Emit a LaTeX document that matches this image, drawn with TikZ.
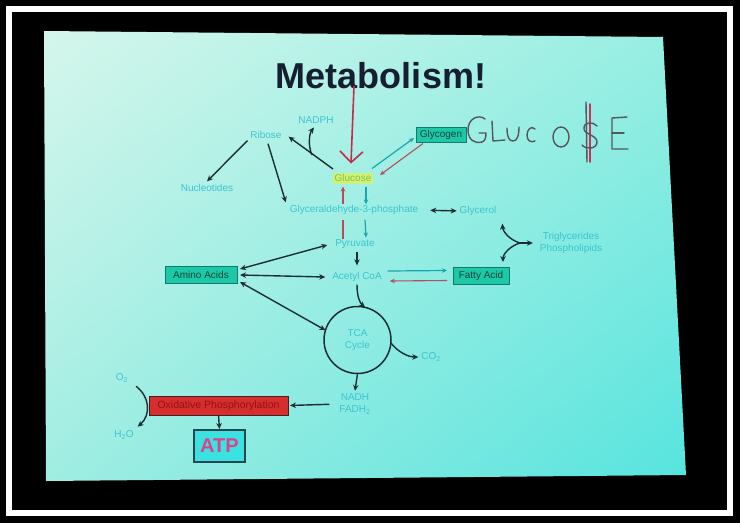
\documentclass[tikz,border=0pt]{standalone}
\usepackage{fontspec}
\setmainfont{Liberation Sans}
\usetikzlibrary{arrows.meta,shadings}
\definecolor{slideUL}{RGB}{214,246,236}
\definecolor{slideUR}{RGB}{150,238,226}
\definecolor{slideLL}{RGB}{160,237,226}
\definecolor{slideLR}{RGB}{85,228,222}
\definecolor{labc}{RGB}{60,196,208}
\definecolor{titlec}{RGB}{22,30,50}
\definecolor{dkc}{RGB}{30,45,52}
\definecolor{tealc}{RGB}{25,165,170}
\definecolor{redc}{RGB}{185,75,90}
\definecolor{bigred}{RGB}{200,40,75}
\definecolor{boxfill}{RGB}{28,200,165}
\definecolor{boxedge}{RGB}{20,120,110}
\definecolor{boxtext}{RGB}{20,70,60}
\definecolor{glufill}{RGB}{205,242,120}
\definecolor{glutext}{RGB}{140,190,70}
\definecolor{oxfill}{RGB}{215,45,45}
\definecolor{oxedge}{RGB}{70,30,30}
\definecolor{oxtext}{RGB}{140,20,25}
\definecolor{atpfill}{RGB}{60,225,225}
\definecolor{atpedge}{RGB}{40,70,80}
\definecolor{atptext}{RGB}{215,70,140}
\definecolor{handc}{RGB}{85,85,92}
\definecolor{handred}{RGB}{205,50,85}
\begin{document}
\begin{tikzpicture}[x=1pt,y=-1pt,
  lab/.style={text=labc, font=\fontsize{10}{12}\selectfont, inner sep=0pt, outer sep=0pt, align=center},
  tbox/.style={draw=boxedge, fill=boxfill, text=boxtext, font=\fontsize{10}{12}\selectfont, inner sep=1pt, outer sep=0pt, line width=0.6pt},
  dk/.style={draw=dkc, line width=1.4pt, -{Stealth[length=6pt,width=5.5pt]}},
  dkboth/.style={draw=dkc, line width=1.4pt, {Stealth[length=6pt,width=5.5pt]}-{Stealth[length=6pt,width=5.5pt]}},
  tl/.style={draw=tealc, line width=1.2pt, -{Stealth[length=5pt,width=4.5pt]}},
  rd/.style={draw=redc, line width=1.1pt, -{Stealth[length=5pt,width=4.5pt]}},
  hand/.style={draw=handc, line width=1.4pt, line cap=round, line join=round},
  handr/.style={draw=handred, line width=1.8pt, line cap=round, line join=round}]
\useasboundingbox (0,0) rectangle (740,523);
% frame
\fill[black] (0,0) rectangle (740,523);
\draw[white, line width=6pt] (9,9) rectangle (730,513);
\begin{scope}
  \clip (44,31) -- (663,37) -- (686,475) -- (46,481) -- cycle;
  \shade[upper left=slideUL, upper right=slideUR, lower left=slideLL, lower right=slideLR] (40,28) rectangle (690,485);
\end{scope}
% title
\node[text=titlec, font=\fontsize{36}{40}\selectfont\bfseries, inner sep=0pt] (title) at (381,76) {Metabolism!};
% nodes
\node[lab] (nadph) at (316,120) {NADPH};
\node[lab] (ribose) at (266,135) {Ribose};
\node[tbox, minimum width=50pt, minimum height=15pt] (glycogen) at (441,135) {Glycogen};
\node[fill=glufill, text=glutext, font=\fontsize{10}{12}\selectfont, inner sep=0pt, outer sep=0pt, minimum width=40pt, minimum height=11pt] (glucose) at (353,178) {Glucose};
\node[lab] (nucl) at (207,188) {Nucleotides};
\node[lab] (g3p) at (354,210) {Glyceraldehyde-3-phosphate};
\node[lab] (glycerol) at (478,211) {Glycerol};
\node[lab] (trig) at (571,243) {Triglycerides\\Phospholipids};
\node[lab] (pyr) at (355,244) {Pyruvate};
\node[lab] (acoa) at (357,277) {Acetyl CoA};
\node[tbox, minimum width=56pt, minimum height=17pt] (fatty) at (481,275.5) {Fatty Acid};
\node[tbox, minimum width=72pt, minimum height=17pt] (amino) at (201,275) {Amino Acids};
\node[circle, draw=dkc, line width=1.5pt, minimum size=67pt, inner sep=0pt, outer sep=0pt, text=labc, font=\fontsize{10}{12}\selectfont, align=center] (tca) at (357.5,340) {TCA\\Cycle};
\node[lab] (co2) at (431,357) {CO\textsubscript{2}};
\node[lab] (nadh) at (355,404) {NADH\\FADH\textsubscript{2}};
\node[draw=oxedge, fill=oxfill, text=oxtext, line width=0.8pt, font=\fontsize{10.5}{12}\selectfont, inner sep=0pt, outer sep=0pt, minimum width=139pt, minimum height=19pt] (ox) at (218.5,405.5) {Oxidative Phosphorylation};
\node[draw=atpedge, fill=atpfill, text=atptext, line width=1.2pt, font=\fontsize{20}{22}\selectfont\bfseries, inner sep=0pt, outer sep=0pt, minimum width=51pt, minimum height=32pt] (atp) at (219.5,446) {ATP};
\node[lab] (o2) at (122,378) {O\textsubscript{2}};
\node[lab] (h2o) at (124,435) {H\textsubscript{2}O};
% coordinates
\coordinate (redtop) at (354,86);
\coordinate (nb) at (312,155);
\coordinate (jn) at (520,243);
% big red arrow
\draw[draw=bigred, line width=1.6pt, -{Straight Barb[length=11pt,width=23pt,line width=1.6pt]}] (redtop) -- ([shift={(-2,-9)}]glucose.north);
% top connectors
\draw[dk] ([shift={(0,-3.5)}]glucose.north west) -- ([shift={(7,-2)}]ribose.south east);
\draw[dk] (nb) .. controls (308,146) and (309,134) .. ([shift={(-2,4)}]nadph.south);
\draw[dk] ([shift={(-3,2)}]ribose.south west) -- ([shift={(0,-3)}]nucl.north);
\draw[dk] ([shift={(2,5)}]ribose.south) -- ([shift={(-4,-3)}]g3p.north west);
\draw[tl] ([shift={(-1,-4)}]glucose.north east) -- ([shift={(-2,3)}]glycogen.west);
\draw[rd] ([shift={(7,1)}]glycogen.south west) -- ([shift={(7,-3)}]glucose.east);
\draw[tl] ([shift={(13,3)}]glucose.south) -- ([shift={(12,-1)}]g3p.north);
\draw[rd] ([shift={(-11,-1)}]g3p.north) -- ([shift={(-10,3)}]glucose.south);
\draw[draw=redc, line width=1.1pt] ([shift={(-12,-1)}]pyr.north) -- ([shift={(-11,5)}]g3p.south);
\draw[tl] ([shift={(11,5)}]g3p.south) -- ([shift={(11,-2)}]pyr.north);
\draw[dkboth, shorten <=12pt, shorten >=3pt] (g3p.east) -- (glycerol.west);
\draw[dk] ([shift={(2,4)}]pyr.south) -- ([shift={(0,-7)}]acoa.north);
\draw[tl] ([shift={(6,-6)}]acoa.east) -- ([shift={(-6,-5)}]fatty.west);
\draw[rd] ([shift={(-6,5)}]fatty.west) -- ([shift={(8,4)}]acoa.east);
% lipids branch
\draw[dk] (jn) .. controls (510,240) and (503,232) .. ([shift={(6,8)}]glycerol.south east);
\draw[dk] (jn) .. controls (510,246) and (503,254) .. ([shift={(-6,-5)}]fatty.north east);
\draw[dk, shorten >=7pt] (jn) -- (trig.west |- jn);
% amino acids
\draw[dkboth] ([shift={(3,-6)}]amino.east) -- ([shift={(-8,1)}]pyr.west);
\draw[dkboth] ([shift={(3,0)}]amino.east) -- ([shift={(-7,0)}]acoa.west);
\draw[dkboth] ([shift={(3,7)}]amino.east) -- (tca.163);
% TCA
\draw[dk] ([shift={(0,3)}]acoa.south) .. controls (357,297) and (360,303) .. (tca.77);
\draw[dk] (tca.-5) .. controls (398,352) and (408,357) .. ([shift={(-3,0)}]co2.west);
\draw[dk] (tca.south) -- ([shift={(0,-3)}]nadh.north);
\draw[dk, shorten <=10pt, shorten >=2pt] (nadh.west) -- (ox.east);
\draw[dk, shorten <=1pt, shorten >=1pt] (ox.south) -- (atp.north);
\draw[dk] ([shift={(8,4)}]o2.south east) .. controls (150,397) and (151,415) .. ([shift={(4,-4)}]h2o.north east);
% handwriting GLUCO$E
\draw[hand] (485,119) .. controls (479,114) and (468,118) .. (468,130) .. controls (468,140) and (475,144) .. (482,142) .. controls (485,141) and (486,138) .. (486,133) -- (479,133);
\draw[hand] (492,121) -- (493,141) -- (505,140);
\draw[hand] (507,128) .. controls (507,137) and (509,141) .. (513,141) .. controls (517,141) and (519,136) .. (519,127);
\draw[hand] (535,129) .. controls (531,125) and (527,130) .. (527,135) .. controls (527,141) and (531,143) .. (535,141);
\draw[hand] (561,137) ellipse [x radius=8, y radius=10];
\draw[handr] (590,104) -- (590,162);
\draw[hand] (586,102) -- (587,162);
\draw[hand] (597,126) .. controls (593,121) and (583,122) .. (584,129) .. controls (585,135) and (597,135) .. (597,142) .. controls (597,149) and (586,150) .. (582,145);
\draw[hand] (627,117) -- (612,118) -- (612,149) -- (628,149);
\draw[hand] (612,133) -- (624,133);
\end{tikzpicture}
\end{document}
